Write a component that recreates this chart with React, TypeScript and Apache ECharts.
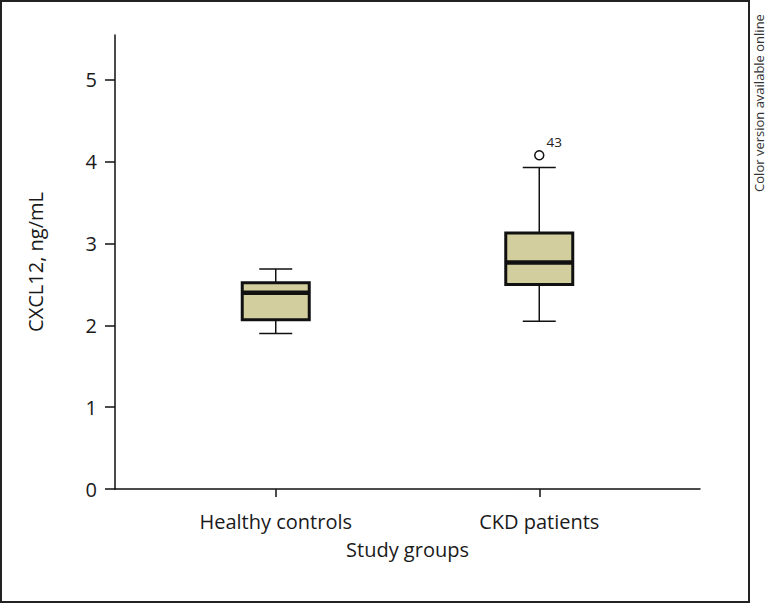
import React, { useEffect, useRef } from "react";
import * as echarts from "echarts";

const groups = ["Healthy controls", "CKD patients"];
const groupPos = [1, 2];
// [min, Q1, median, Q3, max]
const boxStats = [
  [1.9, 2.07, 2.4, 2.52, 2.69],
  [2.05, 2.5, 2.77, 3.13, 3.93],
];
const outliers = [[2, 4.08, "43"]];
const yTicks = [0, 1, 2, 3, 4, 5];

export default function App() {
  const ref = useRef<HTMLDivElement>(null);
  useEffect(() => {
    document.body.style.margin = "0";
    const chart = echarts.init(ref.current!, null, { renderer: "svg" });
    const font = "'Open Sans', 'DejaVu Sans', sans-serif";
    const boxData = boxStats.map((s, i) => [groupPos[i], ...s]);
    chart.setOption({
      animation: false,
      backgroundColor: "#fff",
      grid: { left: 115, top: 35, width: 585, height: 454 },
      xAxis: {
        type: "value",
        min: 0.39,
        max: 2.61,
        name: "Study groups",
        nameLocation: "middle",
        nameGap: 50,
        nameTextStyle: { fontFamily: font, fontSize: 20, color: "#1a1a1a" },
        splitLine: { show: false },
        axisLine: { onZero: false, lineStyle: { color: "#111", width: 1.5 } },
        axisTick: { show: true, length: 8, customValues: groupPos, lineStyle: { color: "#111", width: 1.5 } },
        axisLabel: {
          customValues: groupPos,
          margin: 22,
          fontFamily: font,
          fontSize: 20,
          color: "#1a1a1a",
          formatter: (v: number) => groups[groupPos.indexOf(Math.round(v))] ?? "",
        },
      },
      yAxis: {
        type: "value",
        min: 0,
        max: 5.55,
        name: "CXCL12, ng/mL",
        nameLocation: "middle",
        nameGap: 70,
        nameTextStyle: { fontFamily: font, fontSize: 20, color: "#1a1a1a" },
        splitLine: { show: false },
        axisLine: { show: true, lineStyle: { color: "#111", width: 1.5 } },
        axisTick: { show: true, length: 10, customValues: yTicks, lineStyle: { color: "#111", width: 1.5 } },
        axisLabel: { customValues: yTicks, margin: 18, fontFamily: font, fontSize: 20, color: "#1a1a1a" },
      },
      series: [
        {
          type: "custom",
          data: boxData,
          encode: { x: 0, y: [1, 2, 3, 4, 5] },
          renderItem: (params: any, api: any) => {
            const x = api.value(0);
            const pMin = api.coord([x, api.value(1)]);
            const pQ1 = api.coord([x, api.value(2)]);
            const pMed = api.coord([x, api.value(3)]);
            const pQ3 = api.coord([x, api.value(4)]);
            const pMax = api.coord([x, api.value(5)]);
            const cx = pMin[0];
            const bw = 67;
            const cw = 33;
            const ls = { stroke: "#111", lineWidth: 1.5 };
            return {
              type: "group",
              children: [
                { type: "line", shape: { x1: cx, y1: pQ3[1], x2: cx, y2: pMax[1] }, style: ls },
                { type: "line", shape: { x1: cx, y1: pQ1[1], x2: cx, y2: pMin[1] }, style: ls },
                { type: "line", shape: { x1: cx - cw / 2, y1: pMax[1], x2: cx + cw / 2, y2: pMax[1] }, style: ls },
                { type: "line", shape: { x1: cx - cw / 2, y1: pMin[1], x2: cx + cw / 2, y2: pMin[1] }, style: ls },
                {
                  type: "rect",
                  shape: { x: cx - bw / 2, y: pQ3[1], width: bw, height: pQ1[1] - pQ3[1] },
                  style: { fill: "#d3ce9d", stroke: "#111", lineWidth: 3 },
                },
                {
                  type: "line",
                  shape: { x1: cx - bw / 2, y1: pMed[1], x2: cx + bw / 2, y2: pMed[1] },
                  style: { stroke: "#111", lineWidth: 4.5 },
                },
              ],
            };
          },
        },
        {
          type: "scatter",
          data: outliers,
          symbol: "circle",
          symbolSize: 9,
          itemStyle: { color: "#fff", borderColor: "#111", borderWidth: 1.5, opacity: 1 },
          label: {
            show: true,
            position: "right",
            distance: 0,
            offset: [2, -13],
            formatter: (p: any) => p.data[2],
            fontFamily: font,
            fontSize: 13.5,
            color: "#222",
          },
        },
      ],
      graphic: [
        {
          type: "rect",
          shape: { x: 1, y: 1, width: 748, height: 601 },
          style: { fill: "none", stroke: "#222", lineWidth: 2 },
          silent: true,
        },
        {
          type: "text",
          x: 759,
          y: 103,
          rotation: Math.PI / 2,
          style: {
            text: "Color version available online",
            fontFamily: font,
            fontSize: 13,
            fill: "#333",
            align: "center",
            verticalAlign: "middle",
          },
        },
      ],
    });
    return () => chart.dispose();
  }, []);
  return <div ref={ref} style={{ width: 768, height: 604 }} />;
}
